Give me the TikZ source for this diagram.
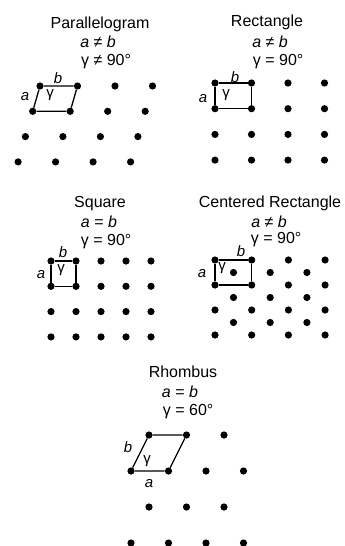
\documentclass[tikz,border=0pt]{standalone}
\usepackage{fontspec}
\setmainfont{Liberation Sans}
\newcommand{\relline}[3]{\makebox[0pt][r]{#1\ }#2\makebox[0pt][l]{\ #3}}
\begin{document}
\begin{tikzpicture}[x=1pt,y=-1pt,
  dot/.style={circle,fill=black,inner sep=0pt,minimum size=7.2pt},
  cell/.style={line width=1.3pt},
  title/.style={anchor=base,font=\fontsize{16}{18}\selectfont,inner sep=0pt},
  lbl/.style={anchor=base,font=\fontsize{15}{17}\selectfont\itshape,inner sep=0pt},
  gam/.style={anchor=base,font=\fontsize{15}{17}\selectfont,inner sep=0pt}]
\useasboundingbox (0,0) rectangle (345,546);
% ---------- Parallelogram ----------
\foreach \r in {0,...,3}{\foreach \c in {0,...,3}{
  \node[dot] (pa\r\c) at ({40-7.3*\r+37.5*\c},{86+25.3*\r}) {};}}
\draw[cell] (pa00) -- (pa01) -- (pa11) -- (pa10) -- (pa00);
\node[title] (t1) at (100,28) {Parallelogram};
\node[title] (t1a) at (98,47) {\relline{\textit{a}}{≠}{\textit{b}}};
\node[title] (t1b) at (98,65) {\relline{γ}{≠}{90°}};
\node[lbl] (la1) at (25,100) {a};
\node[lbl] (lb1) at (58,83) {b};
\node[gam] (lg1) at (50,97) {γ};
% ---------- Rectangle ----------
\foreach \r in {0,...,3}{\foreach \c in {0,...,3}{
  \node[dot] (re\r\c) at ({215+36.5*\c},{83+25.7*\r}) {};}}
\draw[cell] (re00) -- (re01) -- (re11) -- (re10) -- (re00);
\node[title] (t2) at (267,27) {Rectangle};
\node[title] (t2a) at (270,47) {\relline{\textit{a}}{≠}{\textit{b}}};
\node[title] (t2b) at (270,65) {\relline{γ}{=}{90°}};
\node[lbl] (la2) at (203,102) {a};
\node[lbl] (lb2) at (235,82) {b};
\node[gam] (lg2) at (226,97) {γ};
% ---------- Square ----------
\foreach \r in {0,...,3}{\foreach \c in {0,...,4}{
  \node[dot] (sq\r\c) at ({51+25*\c},{261+25.3*\r}) {};}}
\draw[cell] (sq00) -- (sq01) -- (sq11) -- (sq10) -- (sq00);
\node[title] (t3) at (100,207) {Square};
\node[title] (t3a) at (99,227) {\relline{\textit{a}}{=}{\textit{b}}};
\node[title] (t3b) at (98,245) {\relline{γ}{=}{90°}};
\node[lbl] (la3) at (41,278) {a};
\node[lbl] (lb3) at (63,257) {b};
\node[gam] (lg3) at (61,272) {γ};
% ---------- Centered Rectangle ----------
\foreach \r in {0,...,3}{\foreach \c in {0,...,3}{
  \node[dot] (cr\r\c) at ({215+36.7*\c},{260+25*\r}) {};}}
\foreach \r in {0,...,2}{\foreach \c in {0,...,2}{
  \node[dot] (cc\r\c) at ({233.5+36.7*\c},{272.5+25*\r}) {};}}
\draw[cell] (cr00) -- (cr01) -- (cr11) -- (cr10) -- (cr00);
\node[title] (t4) at (270,207) {Centered Rectangle};
\node[title] (t4a) at (269,227) {\relline{\textit{a}}{≠}{\textit{b}}};
\node[title] (t4b) at (268,243) {\relline{γ}{=}{90°}};
\node[lbl] (la4) at (202,277) {a};
\node[lbl] (lb4) at (241,256) {b};
\node[gam] (lg4) at (222,270) {γ};
% ---------- Rhombus ----------
\foreach \r in {0,2}{\foreach \c in {0,...,2}{
  \node[dot] (rh\r\c) at ({149+37.5*\c},{435+36*\r}) {};}}
\foreach \r in {1,3}{\foreach \c in {0,...,3}{
  \node[dot] (rh\r\c) at ({131+37.5*\c},{435+36*\r}) {};}}
\draw[cell] (rh00) -- (rh01) -- (rh11) -- (rh10) -- (rh00);
\node[title] (t5) at (183,377) {Rhombus};
\node[title] (t5a) at (180,397) {\relline{\textit{a}}{=}{\textit{b}}};
\node[title] (t5b) at (180,415) {\relline{γ}{=}{60°}};
\node[lbl] (lb5) at (128,452) {b};
\node[gam] (lg5) at (147,463) {γ};
\node[lbl] (la5) at (149,487) {a};
\end{tikzpicture}
\end{document}
